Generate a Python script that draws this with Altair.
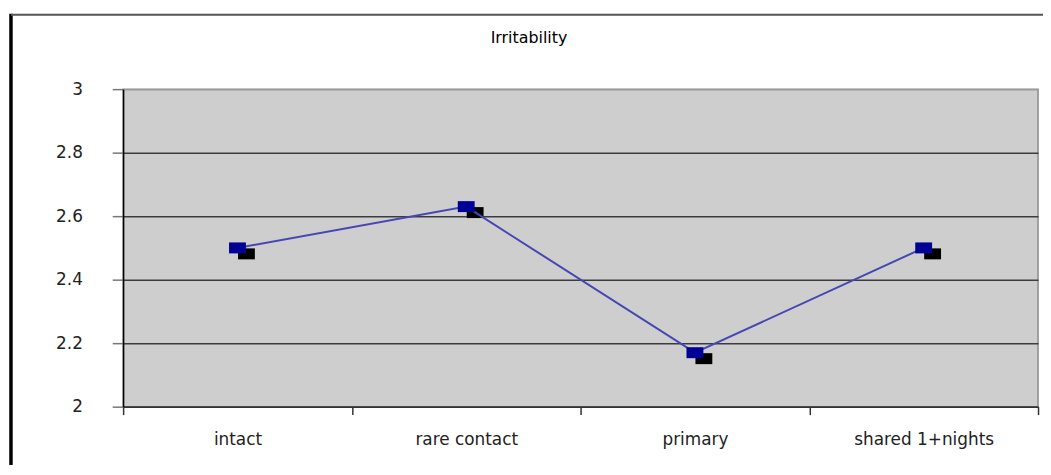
import altair as alt
import pandas as pd

categories = ["intact", "rare contact", "primary", "shared 1+nights"]
values = [2.5, 2.63, 2.17, 2.5]
y_ticks = [2, 2.2, 2.4, 2.6, 2.8, 3]
chart_title = "Irritability"

FONT = "DejaVu Sans"

df = pd.DataFrame({"group": categories, "score": values})

x_enc = alt.X(
    "group:N",
    sort=categories,
    title=None,
    scale=alt.Scale(type="band", paddingInner=0, paddingOuter=0),
    axis=alt.Axis(
        labelAngle=0,
        tickBand="extent",
        tickSize=8,
        tickColor="#333333",
        tickWidth=1.5,
        domainColor="#333333",
        domainWidth=1.5,
        labelFont=FONT,
        labelFontSize=17,
        labelColor="#222222",
        labelPadding=17,
        grid=False,
    ),
)
y_enc = alt.Y(
    "score:Q",
    title=None,
    scale=alt.Scale(domain=[2, 3], nice=False, zero=False),
    axis=alt.Axis(
        values=y_ticks,
        format="~g",
        tickSize=11,
        tickColor="#777777",
        tickWidth=1.5,
        labelPadding=30,
        labelFont=FONT,
        labelFontSize=17,
        labelColor="#222222",
        domainColor="#000000",
        domainWidth=1.5,
        grid=True,
        gridColor={"condition": {"test": "datum.value >= 3", "value": "#9a9a9a"}, "value": "#3c3c3c"},
        gridWidth=1.5,
    ),
)

base = alt.Chart(df).encode(x=x_enc, y=y_enc)

rect_shape = "M-1,-0.65L1,-0.65L1,0.65L-1,0.65Z"

shadow = base.mark_point(
    shape=rect_shape, size=289, filled=True, color="#000000", opacity=1,
    strokeWidth=0, xOffset=9, yOffset=6,
)
line = base.mark_line(color="#4646b4", strokeWidth=2)
markers = base.mark_point(
    shape=rect_shape, size=289, filled=True, color="#000096", opacity=1, strokeWidth=0,
)

frame_data = alt.Data(values=[{"k": 1}])
left_border = alt.Chart(frame_data).mark_rule(color="#000000", strokeWidth=3.5).encode(
    x=alt.value(-113), y=alt.value(-76), y2=alt.value(400)
)
top_border = alt.Chart(frame_data).mark_rule(color="#555555", strokeWidth=2).encode(
    x=alt.value(-113), x2=alt.value(930), y=alt.value(-75)
)

title_data = alt.Data(values=[{"t": chart_title}])
title_text = alt.Chart(title_data).mark_text(
    font=FONT, fontSize=16, color="#000000", align="center", baseline="middle"
).encode(text="t:N", x=alt.value(409), y=alt.value(-51))

chart = alt.layer(left_border, top_border, title_text, shadow, line, markers).properties(
    width=922,
    height=320,
    autosize=alt.AutoSizeParams(type="none"),
    padding={"left": 116, "top": 80, "right": 5, "bottom": 57},
    background="#ffffff",
).configure_view(fill="#cecece", stroke="#8a8a8a", strokeWidth=1.5)

chart.save("out.html", embed_options={"renderer": "svg", "actions": False})
